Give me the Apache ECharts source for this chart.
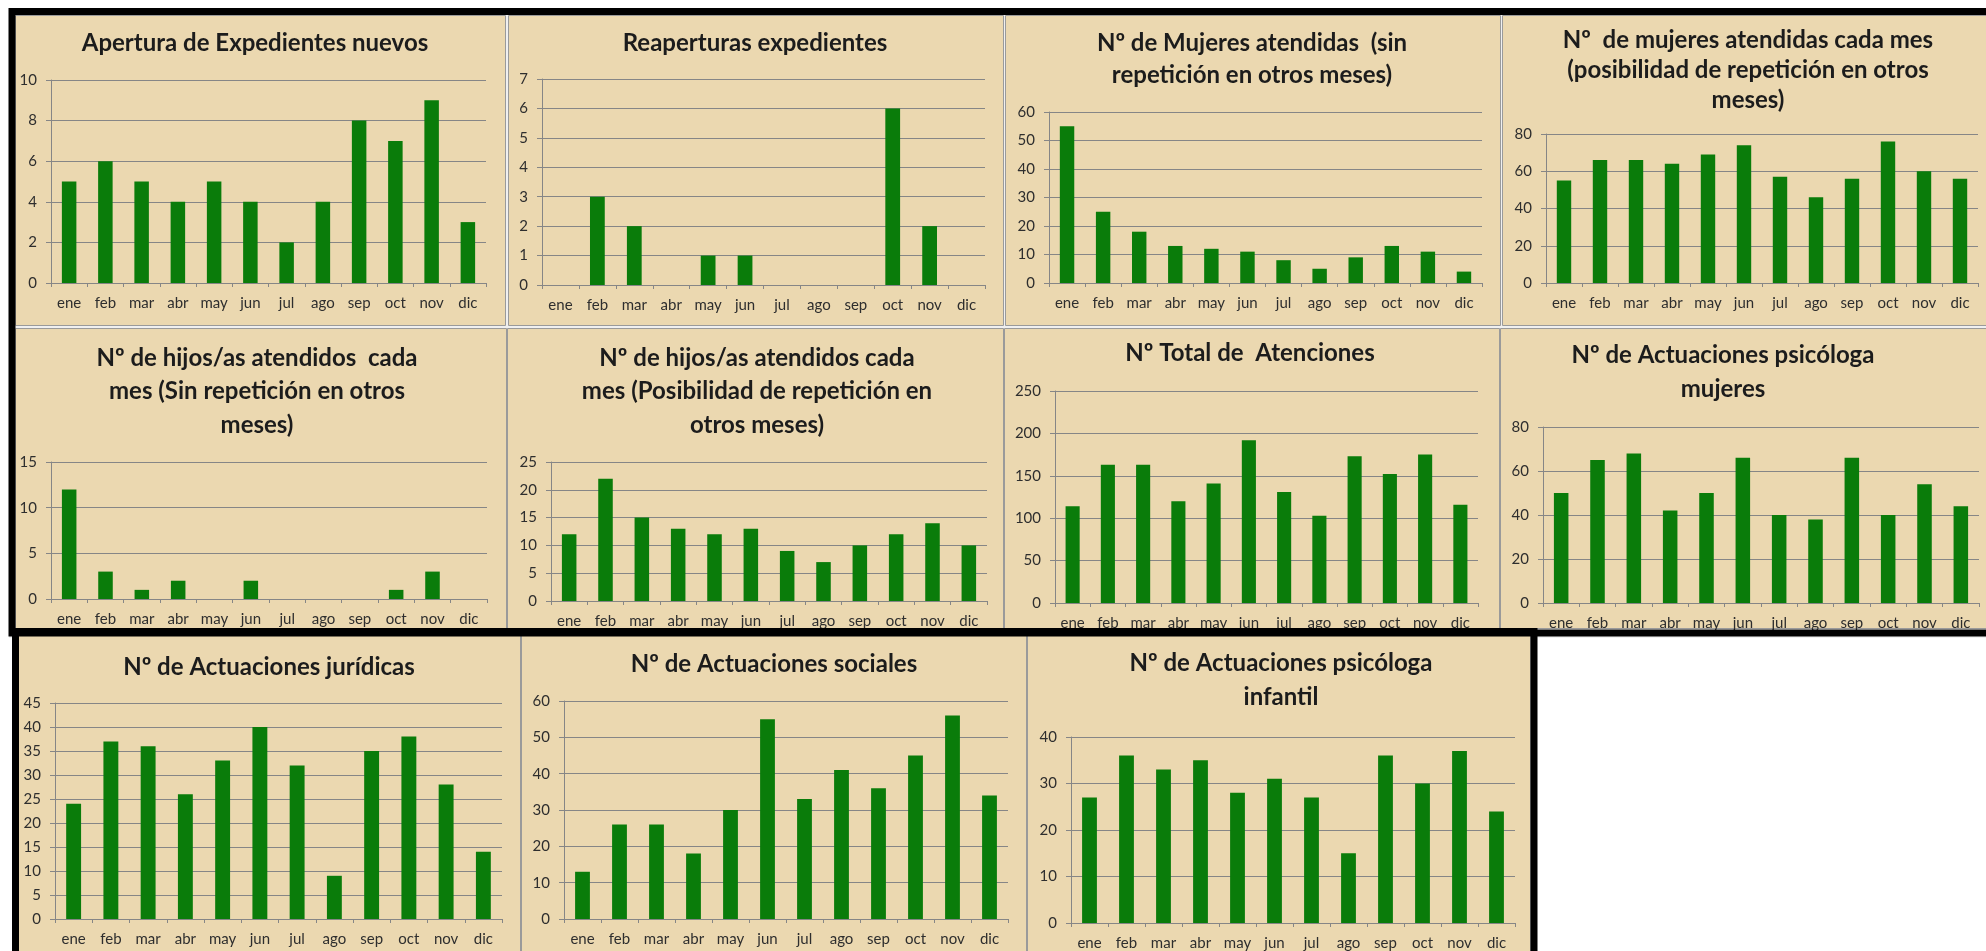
<!DOCTYPE html>
<html>
<head>
<meta charset="utf-8">
<script src="https://cdn.jsdelivr.net/npm/echarts@6/dist/echarts.min.js"></script>
<style>
  html, body { margin: 0; padding: 0; background: #fff; }
  #chart { width: 1986px; height: 951px; }
</style>
</head>
<body>
<div id="chart"></div>
<script>
const months = ['ene', 'feb', 'mar', 'abr', 'may', 'jun', 'jul', 'ago', 'sep', 'oct', 'nov', 'dic']

const aperturaExpedientes = [5, 6, 5, 4, 5, 4, 2, 4, 8, 7, 9, 3]
const reaperturas = [0, 3, 2, 0, 1, 1, 0, 0, 0, 6, 2, 0]
const mujeresSinRepeticion = [55, 25, 18, 13, 12, 11, 8, 5, 9, 13, 11, 4]
const mujeresCadaMes = [55, 66, 66, 64, 69, 74, 57, 46, 56, 76, 60, 56]
const hijosSinRepeticion = [12, 3, 1, 2, 0, 2, 0, 0, 0, 1, 3, 0]
const hijosCadaMes = [12, 22, 15, 13, 12, 13, 9, 7, 10, 12, 14, 10]
const totalAtenciones = [114, 163, 163, 120, 141, 192, 131, 103, 173, 152, 175, 116]
const psicologaMujeres = [50, 65, 68, 42, 50, 66, 40, 38, 66, 40, 54, 44]
const juridicas = [24, 37, 36, 26, 33, 40, 32, 9, 35, 38, 28, 14]
const sociales = [13, 26, 26, 18, 30, 55, 33, 41, 36, 45, 56, 34]
const psicologaInfantil = [27, 36, 33, 35, 28, 31, 27, 15, 36, 30, 37, 24]

const titles = [
  'Apertura de Expedientes nuevos',
  'Reaperturas expedientes',
  'Nº de Mujeres atendidas  (sin\nrepetición en otros meses)',
  'Nº  de mujeres atendidas cada mes\n(posibilidad de repetición en otros\nmeses)',
  'Nº de hijos/as atendidos  cada\nmes (Sin repetición en otros\nmeses)',
  'Nº de hijos/as atendidos cada\nmes (Posibilidad de repetición en\notros meses)',
  'Nº Total de  Atenciones',
  'Nº de Actuaciones psicóloga\nmujeres',
  'Nº de Actuaciones jurídicas',
  'Nº de Actuaciones sociales',
  'Nº de Actuaciones psicóloga\ninfantil'
]
const seriesData = [
  aperturaExpedientes, reaperturas, mujeresSinRepeticion, mujeresCadaMes,
  hijosSinRepeticion, hijosCadaMes, totalAtenciones, psicologaMujeres,
  juridicas, sociales, psicologaInfantil
]
const yMax = [10, 7, 60, 80, 15, 25, 250, 80, 45, 60, 40]
const yStep = [2, 1, 10, 20, 5, 5, 50, 20, 5, 10, 10]

// disposicion de cada panel: rect [x0, y0, x1, y1], grid [left, top, width, height], titulo [cx, cy primera linea, lineHeight]
const layout = [
  { rect: [15, 15, 505, 325], grid: [51, 80, 435, 203], title: [255, 43, 33] },
  { rect: [508, 15, 1003, 325], grid: [542, 79, 443, 206], title: [755, 43, 33] },
  { rect: [1005, 15, 1500, 325], grid: [1049, 112, 433, 171], title: [1252, 43, 32] },
  { rect: [1502, 15, 1990, 325], grid: [1546, 134, 432, 149], title: [1748, 40, 30] },
  { rect: [15, 328, 506, 628], grid: [51, 462, 436, 137], title: [257, 358, 33.5] },
  { rect: [507, 328, 1003, 628], grid: [551, 462, 436, 139], title: [757, 358, 33.5] },
  { rect: [1004, 328, 1499, 628], grid: [1055, 391, 423, 212], title: [1250, 353, 33] },
  { rect: [1500, 328, 1990, 628], grid: [1543, 427, 436, 176], title: [1723, 355, 34] },
  { rect: [18, 635, 520, 960], grid: [55, 703, 447, 216], title: [269, 667, 33] },
  { rect: [521, 635, 1026, 960], grid: [564, 701, 444, 218], title: [774, 664, 33] },
  { rect: [1027, 635, 1530, 960], grid: [1071, 737, 444, 194], title: [1281, 663, 34] }
]

const bg = '#ebd8b0'
const barColor = '#0a7c0a'
const lineColor = '#868686'
const font = 'Lato'

const graphic = [
  { type: 'rect', z: -20, shape: { x: 9, y: 8, width: 1990, height: 630 }, style: { fill: '#f0f0f0' } },
  { type: 'rect', z: -20, shape: { x: 13, y: 628, width: 1524, height: 340 }, style: { fill: '#f0f0f0' } }
]
layout.forEach(p => {
  graphic.push({
    type: 'rect',
    z: -10,
    shape: { x: p.rect[0] + 0.5, y: p.rect[1] + 0.5, width: p.rect[2] - p.rect[0], height: p.rect[3] - p.rect[1] },
    style: { fill: bg, stroke: '#9a9a9a', lineWidth: 1 }
  })
})
// marcos negros gruesos
graphic.push({
  type: 'rect', z: 100,
  shape: { x: 12, y: 11.5, width: 1985, height: 621.5 },
  style: { fill: 'none', stroke: '#000', lineWidth: 7 }
})
graphic.push({
  type: 'rect', z: 100,
  shape: { x: 15.5, y: 631.5, width: 1518.5, height: 340 },
  style: { fill: 'none', stroke: '#000', lineWidth: 7 }
})

const option = {
  backgroundColor: '#fff',
  animation: false,
  graphic: graphic,
  title: layout.map((p, i) => ({
    text: titles[i],
    left: p.title[0],
    top: p.title[1] - p.title[2] / 2,
    textAlign: 'center',
    padding: 0,
    textStyle: {
      fontFamily: font,
      fontWeight: 'bold',
      fontSize: 24,
      color: '#1c1c1c',
      lineHeight: p.title[2]
    }
  })),
  grid: layout.map(p => ({
    left: p.grid[0],
    top: p.grid[1],
    width: p.grid[2],
    height: p.grid[3]
  })),
  xAxis: layout.map((p, i) => ({
    type: 'category',
    gridIndex: i,
    data: months,
    boundaryGap: true,
    axisLine: { lineStyle: { color: lineColor, width: 1 } },
    axisTick: { show: true, length: 4, alignWithLabel: false, lineStyle: { color: lineColor } },
    axisLabel: { fontFamily: font, fontSize: 15, color: '#2e2e2e', margin: 13, interval: 0 }
  })),
  yAxis: layout.map((p, i) => ({
    type: 'value',
    gridIndex: i,
    min: 0,
    max: yMax[i],
    interval: yStep[i],
    axisLine: { show: true, lineStyle: { color: lineColor, width: 1 } },
    axisTick: { show: true, length: 5, lineStyle: { color: lineColor } },
    splitLine: { lineStyle: { color: lineColor, width: 1 } },
    axisLabel: { fontFamily: font, fontSize: 15, color: '#2e2e2e', margin: 14 }
  })),
  series: seriesData.map((d, i) => ({
    type: 'bar',
    xAxisIndex: i,
    yAxisIndex: i,
    data: d,
    barCategoryGap: '60%',
    itemStyle: { color: barColor }
  }))
}

const myChart = echarts.init(document.getElementById('chart'))
myChart.setOption(option)
</script>
</body>
</html>
